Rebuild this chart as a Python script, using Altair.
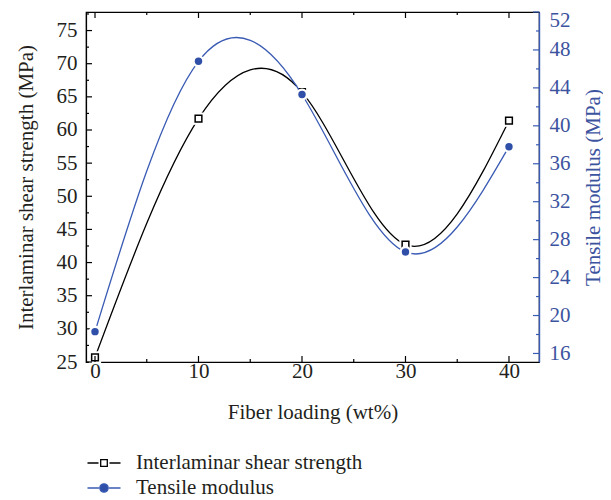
import altair as alt
import pandas as pd

# ---- data ----
fiber = [0, 10, 20, 30, 40]
ilss = [25.7, 61.7, 65.7, 42.7, 61.4]
tensile = [18.3, 46.8, 43.3, 26.7, 37.8]
series_names = ["Interlaminar shear strength", "Tensile modulus"]

x_labels = [0, 10, 20, 30, 40]
x_minor = [5, 15, 25, 35]
left_labels = [25, 30, 35, 40, 45, 50, 55, 60, 65, 70, 75]
left_minor = [27.5, 32.5, 37.5, 42.5, 47.5, 52.5, 57.5, 62.5, 67.5, 72.5, 77.5]
right_labels = [16, 20, 24, 28, 32, 36, 40, 44, 48, 52]
right_minor = [18, 22, 26, 30, 34, 38, 42, 46, 50]

# ---- style ----
W, H = 453, 350
FONT = "Liberation Serif"
TXT = "#231f20"
BLUE = "#3a5bb4"
BLUE_MK = "#2f4fa8"
BLUE_TXT = "#3c53a0"
FS = 21

df = pd.DataFrame({"fiber": fiber, "ilss": ilss, "tensile": tensile})

xscale = alt.Scale(domain=[-0.87, 42.9], nice=False, zero=False)
lscale = alt.Scale(domain=[25, 77.8], nice=False, zero=False)
rscale = alt.Scale(domain=[15.1, 52], nice=False, zero=False)

x_axis = alt.Axis(values=x_labels, ticks=False, tickSize=0, grid=False,
                  labelPadding=-2, title="Fiber loading (wt%)", titlePadding=20,
                  labelFont=FONT, labelFontSize=FS, labelColor=TXT,
                  titleFont=FONT, titleFontSize=FS, titleColor=TXT,
                  titleFontWeight="normal", domainColor="black", domainWidth=1.2)
left_axis = alt.Axis(values=left_labels, ticks=False, tickSize=0, grid=False,
                     orient="left", labelPadding=9,
                     title="Interlaminar shear strength (MPa)", titlePadding=20,
                     labelFont=FONT, labelFontSize=FS, labelColor=TXT,
                     titleFont=FONT, titleFontSize=FS, titleColor=TXT,
                     titleFontWeight="normal", domainColor="black", domainWidth=1.2)
right_axis = alt.Axis(values=right_labels, ticks=False, tickSize=0, grid=False,
                      orient="right", labelPadding=10, labelFlush=1, labelFlushOffset=3,
                      title="Tensile modulus (MPa)", titlePadding=12, titleAngle=270,
                      titleBaseline="top",
                      labelFont=FONT, labelFontSize=FS, labelColor=BLUE_TXT,
                      titleFont=FONT, titleFontSize=FS, titleColor=BLUE_TXT,
                      titleFontWeight="normal", domainColor=BLUE, domainWidth=1.4)

X = alt.X("fiber:Q", scale=xscale, axis=x_axis)
YL = alt.Y("ilss:Q", scale=lscale, axis=left_axis)
YR = alt.Y("tensile:Q", scale=rscale, axis=right_axis)

base = alt.Chart(df)

# ---- left-scale group ----
ilss_line = base.mark_line(interpolate="natural", color="black", strokeWidth=1.3).encode(X, YL)
ilss_halo = base.mark_point(shape="square", filled=True, color="white", size=150, opacity=1).encode(X, YL)
ilss_pts = base.mark_point(shape="square", filled=True, fill="white", stroke="black",
                           strokeWidth=1.5, size=45, opacity=1).encode(X, YL)


def ticks_df(vals):
    return pd.DataFrame({"v": vals})


def xticks(vals, ln):
    xe = alt.X("v:Q", scale=xscale, axis=x_axis)
    bot = alt.Chart(ticks_df(vals)).mark_rule(color="black", strokeWidth=1.2).encode(
        x=xe, y=alt.value(H), y2=alt.value(H - ln))
    top = alt.Chart(ticks_df(vals)).mark_rule(color="black", strokeWidth=1.2).encode(
        x=xe, y=alt.value(0), y2=alt.value(ln))
    return [bot, top]


def lticks(vals, ln):
    return alt.Chart(ticks_df(vals)).mark_rule(color="black", strokeWidth=1.2).encode(
        y=alt.Y("v:Q", scale=lscale, axis=left_axis), x=alt.value(0), x2=alt.value(ln))


def rticks(vals, ln):
    return alt.Chart(ticks_df(vals)).mark_rule(color=BLUE, strokeWidth=1.2).encode(
        y=alt.Y("v:Q", scale=rscale, axis=right_axis), x=alt.value(W), x2=alt.value(W - ln))


sq_path = "M-1.65,0H-0.55M0.55,0H1.65M-0.33,-0.33H0.33V0.33H-0.33Z"
ci_path = ("M-1.65,0H-0.5M0.5,0H1.65M-0.42,0A0.42,0.42 0 1,0 0.42,0"
           "A0.42,0.42 0 1,0 -0.42,0Z")
leg = alt.Legend(title=None, orient="none", legendX=7, legendY=440, padding=0,
                 symbolSize=400, symbolStrokeWidth=1.3, labelOffset=21, rowPadding=4,
                 labelFont=FONT, labelFontSize=FS, labelColor=TXT, labelLimit=0)
legend_layer = base.transform_calculate(series="'x'").transform_filter("false").mark_point(
    opacity=1).encode(
    X, YL,
    shape=alt.Shape("series:N", scale=alt.Scale(domain=series_names, range=[sq_path, ci_path]), legend=leg),
    fill=alt.Fill("series:N", scale=alt.Scale(domain=series_names, range=["white", BLUE_MK]), legend=leg),
    stroke=alt.Stroke("series:N", scale=alt.Scale(domain=series_names, range=["black", BLUE]), legend=leg),
)

group_left = alt.layer(
    ilss_line, ilss_halo, ilss_pts,
    lticks(left_labels, 6), lticks(left_minor, 3),
    *xticks(x_labels, 6), *xticks(x_minor, 3),
    legend_layer,
)

# ---- right-scale group ----
ten_line = base.mark_line(interpolate="natural", color=BLUE, strokeWidth=1.3).encode(X, YR)
ten_halo = base.mark_point(shape="circle", filled=True, color="white", size=150, opacity=1).encode(X, YR)
ten_pts = base.mark_point(shape="circle", filled=True, color=BLUE_MK, size=55, opacity=1).encode(X, YR)

group_right = alt.layer(
    ten_line, ten_halo, ten_pts,
    rticks(right_labels, 6), rticks(right_minor, 3),
)

chart = alt.layer(group_left, group_right).resolve_scale(y="independent").properties(
    width=W, height=H,
    autosize=alt.AutoSizeParams(type="none"),
    padding={"left": 78, "top": 4, "right": 64, "bottom": 136},
).configure(font=FONT).configure_axis(
    labelFont=FONT, titleFont=FONT
).configure_legend(labelFont=FONT).configure_view(stroke="black", strokeWidth=1.2)

chart.save("out.html", embed_options={"renderer": "svg", "actions": False})
